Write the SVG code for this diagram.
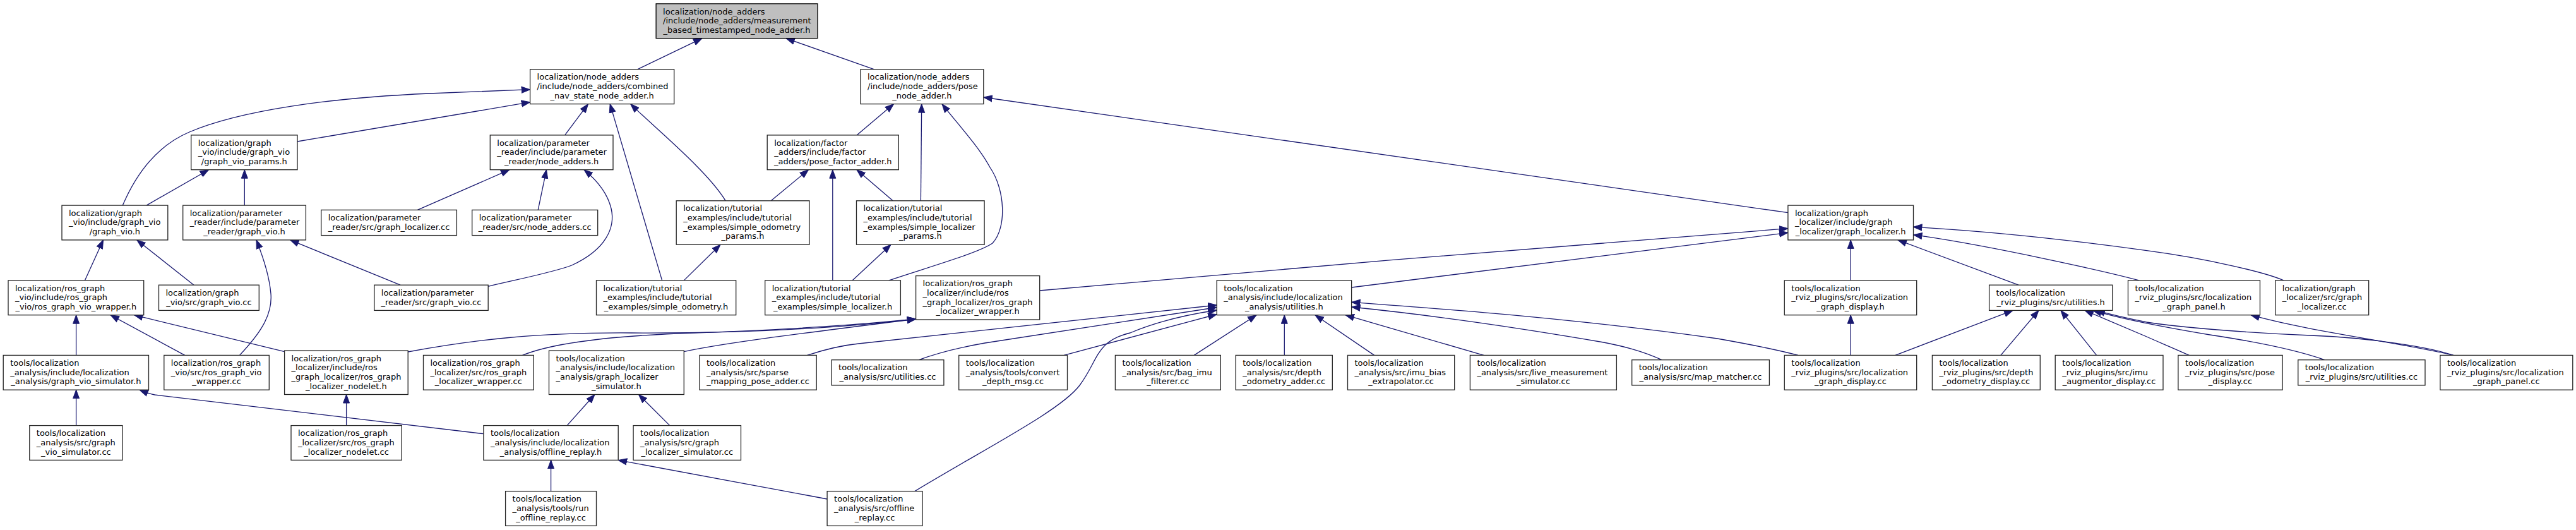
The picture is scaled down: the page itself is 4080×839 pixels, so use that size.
<svg xmlns="http://www.w3.org/2000/svg" width="4080" height="839" viewBox="0 0 4080 839">
<style>
.node rect{fill:#fff;stroke:#222;stroke-width:1.3}
.node.root rect{fill:#bfbfbf;stroke:#000}
.node text{font-family:"DejaVu Sans","Liberation Sans",sans-serif;font-size:13px;fill:#000}
.node text.c{text-anchor:middle}
#edges path{fill:none;stroke:#191970;stroke-width:1.3;marker-end:url(#arr)}
</style>
<defs>
<marker id="arr" markerUnits="userSpaceOnUse" markerWidth="15" markerHeight="12" viewBox="0 0 15 12" refX="14" refY="6" orient="auto">
<path d="M0.5,1 L14,6 L0.5,11 Z" fill="#191970" stroke="#191970" stroke-width="1"/>
</marker>
</defs>
<rect width="4080" height="839" fill="#fff"/>
<g id="edges">
<path d="M1009.6,109.8 L1112,60.7"/>
<path d="M1384.7,109.8 L1245,60.7"/>
<path d="M471,224 L839.6,161.7"/>
<path d="M194.3,325.1 C220,265 255,228 300,209 C380,175 520,155 680,148 L839.6,141.7"/>
<path d="M894.7,213.9 L931.5,164.6"/>
<path d="M1048.6,443.9 L966.2,164.6"/>
<path d="M1149.2,317.8 C1120,270 1040,205 998.7,164.6"/>
<path d="M1357,213.9 L1415.5,164.6"/>
<path d="M1458.4,317.8 L1459.7,164.6"/>
<path d="M1407.7,443.9 C1480,420 1550,400 1572,385 C1595,360 1592,300 1568,265 C1550,232 1520,200 1492,164.6"/>
<path d="M2831.9,336.7 L1557.8,154"/>
<path d="M232,325.1 L330.5,268.7"/>
<path d="M387.3,325.1 L387.3,268.7"/>
<path d="M661.3,332.4 L807,268.7"/>
<path d="M852.2,332.4 L865.5,268.7"/>
<path d="M773.2,453.3 C830,440 880,430 905.5,420 C960,395 975,360 968,330 C962,305 945,285 925,268.7"/>
<path d="M1221.2,317.8 L1280.5,268.7"/>
<path d="M1318.8,443.9 L1318.8,268.7"/>
<path d="M1414.2,317.8 L1357,268.7"/>
<path d="M1083.3,443.9 L1141,387.2"/>
<path d="M1350,443.9 L1411,387.2"/>
<path d="M134.4,443.9 L163.5,379.9"/>
<path d="M307,451.2 L216.8,379.9"/>
<path d="M379.5,562.4 C410,530 432,500 429,465 C427,440 420,415 406,379.9"/>
<path d="M634,451.2 L459.5,379.9"/>
<path d="M1646.7,460 C2000,428 2500,386 2831.9,361.7"/>
<path d="M2140.6,455 L2831.9,368.3"/>
<path d="M2931.2,443.9 L2931.2,379.9"/>
<path d="M3197,451.2 L3006,379.9"/>
<path d="M3387.9,443.9 C3340,431 3150,388 3030.5,371.7"/>
<path d="M3616.8,443.9 C3590,432 3500,410 3400,396.7 C3280,380 3150,366 3030.5,359.3"/>
<path d="M646.2,557 C750,538 850,526 1000,527 C1200,528 1350,517 1450.6,505"/>
<path d="M827.5,562.4 C870,545 950,532 1100,527 C1250,522 1360,514 1450.6,505"/>
<path d="M1083.3,556.7 C1150,542 1300,524 1450.6,505"/>
<path d="M1278.5,562.4 C1310,552 1340,546 1360,544 L1927.2,483"/>
<path d="M1455.4,569.7 C1490,557 1520,550 1560,543 L1927.2,486.5"/>
<path d="M1448.9,777.6 C1560,710 1680,650 1710,610 C1740,570 1735,540 1790,527 C1830,510 1880,498 1927.2,491"/>
<path d="M1685.2,562.4 L1927.2,497.5"/>
<path d="M1891.2,562.4 L1990,498.7"/>
<path d="M2034.3,562.4 L2034.3,498.7"/>
<path d="M2176.6,562.4 L2083,498.7"/>
<path d="M2350,562.4 L2131,498.7"/>
<path d="M2632,569.7 C2600,555 2570,548 2540,542 C2400,518 2250,497 2140.6,486"/>
<path d="M2847.9,562.4 C2800,550 2760,543 2720,536 C2500,505 2300,490 2140.6,478.3"/>
<path d="M2931.2,562.4 L2931.2,498.7"/>
<path d="M3001.9,562.4 L3188,491.4"/>
<path d="M3168.9,562.4 L3229,491.4"/>
<path d="M3320.6,562.4 L3264,491.4"/>
<path d="M3467.2,562.4 C3440,550 3420,542 3400,533 L3302,491.4"/>
<path d="M3681.9,569.7 C3640,555 3580,542 3500,530 C3440,520 3360,505 3315,491.4"/>
<path d="M3885.7,562.4 C3850,550 3760,535 3660,531 C3560,527 3450,518 3400,510 C3370,504 3340,497 3320,491.4"/>
<path d="M3885.7,562.4 C3800,542 3660,525 3565,498.7"/>
<path d="M120.6,562.4 L120.6,498.7"/>
<path d="M292.7,562.4 L175,498.7"/>
<path d="M450.6,556.7 L212.5,498.7"/>
<path d="M120.6,673.6 L120.6,617.2"/>
<path d="M765.9,686.7 L245,625 C235,623 228,620 221,617.2"/>
<path d="M548.6,673.6 L548.6,624.5"/>
<path d="M898.1,673.6 L942,624.5"/>
<path d="M1060.8,673.6 L1011.5,624.5"/>
<path d="M872.6,777.6 L872.6,728.4"/>
<path d="M1310.1,790 L979.2,728.4"/>
</g>
<g id="n1" class="node root" transform="translate(1039.1,5.9)"><rect width="255.8" height="54.8"/><text x="11" y="16.7">localization/node_adders</text><text x="11" y="31.4">/include/node_adders/measurement</text><text class="c" x="127.9" y="46.1">_based_timestamped_node_adder.h</text></g>
<g id="n2" class="node" transform="translate(839.6,109.8)"><rect width="228.1" height="54.8"/><text x="11" y="16.7">localization/node_adders</text><text x="11" y="31.4">/include/node_adders/combined</text><text class="c" x="114.05" y="46.1">_nav_state_node_adder.h</text></g>
<g id="n3" class="node" transform="translate(1363,109.8)"><rect width="194.8" height="54.8"/><text x="11" y="16.7">localization/node_adders</text><text x="11" y="31.4">/include/node_adders/pose</text><text class="c" x="97.4" y="46.1">_node_adder.h</text></g>
<g id="n4" class="node" transform="translate(302.7,213.9)"><rect width="168.3" height="54.8"/><text x="11" y="16.7">localization/graph</text><text x="11" y="31.4">_vio/include/graph_vio</text><text class="c" x="84.15" y="46.1">/graph_vio_params.h</text></g>
<g id="n5" class="node" transform="translate(776.3,213.9)"><rect width="194.7" height="54.8"/><text x="11" y="16.7">localization/parameter</text><text x="11" y="31.4">_reader/include/parameter</text><text class="c" x="97.35" y="46.1">_reader/node_adders.h</text></g>
<g id="n6" class="node" transform="translate(1215.2,213.9)"><rect width="208.1" height="54.8"/><text x="11" y="16.7">localization/factor</text><text x="11" y="31.4">_adders/include/factor</text><text class="c" x="104.05" y="46.1">_adders/pose_factor_adder.h</text></g>
<g id="n7" class="node" transform="translate(98,325.1)"><rect width="167.8" height="54.8"/><text x="11" y="16.7">localization/graph</text><text x="11" y="31.4">_vio/include/graph_vio</text><text class="c" x="83.9" y="46.1">/graph_vio.h</text></g>
<g id="n8" class="node" transform="translate(289.7,325.1)"><rect width="194.7" height="54.8"/><text x="11" y="16.7">localization/parameter</text><text x="11" y="31.4">_reader/include/parameter</text><text class="c" x="97.35" y="46.1">_reader/graph_vio.h</text></g>
<g id="n9" class="node" transform="translate(508.7,332.4)"><rect width="214.7" height="40.2"/><text x="11" y="16.8">localization/parameter</text><text class="c" x="107.35" y="31.4">_reader/src/graph_localizer.cc</text></g>
<g id="n10" class="node" transform="translate(747.7,332.4)"><rect width="199" height="40.2"/><text x="11" y="16.8">localization/parameter</text><text class="c" x="99.5" y="31.4">_reader/src/node_adders.cc</text></g>
<g id="n11" class="node" transform="translate(1071.2,317.8)"><rect width="210.7" height="69.4"/><text x="11" y="16.7">localization/tutorial</text><text x="11" y="31.4">_examples/include/tutorial</text><text x="11" y="46.1">_examples/simple_odometry</text><text class="c" x="105.35" y="60.7">_params.h</text></g>
<g id="n12" class="node" transform="translate(1356.5,317.8)"><rect width="202.6" height="69.4"/><text x="11" y="16.7">localization/tutorial</text><text x="11" y="31.4">_examples/include/tutorial</text><text x="11" y="46.1">_examples/simple_localizer</text><text class="c" x="101.3" y="60.7">_params.h</text></g>
<g id="n13" class="node" transform="translate(2831.9,325.1)"><rect width="198.6" height="54.8"/><text x="11" y="16.7">localization/graph</text><text x="11" y="31.4">_localizer/include/graph</text><text class="c" x="99.3" y="46.1">_localizer/graph_localizer.h</text></g>
<g id="n14" class="node" transform="translate(13,443.9)"><rect width="214.7" height="54.8"/><text x="11" y="16.7">localization/ros_graph</text><text x="11" y="31.4">_vio/include/ros_graph</text><text class="c" x="107.35" y="46.1">_vio/ros_graph_vio_wrapper.h</text></g>
<g id="n15" class="node" transform="translate(251.5,451.2)"><rect width="158.8" height="40.2"/><text x="11" y="16.8">localization/graph</text><text class="c" x="79.4" y="31.4">_vio/src/graph_vio.cc</text></g>
<g id="n16" class="node" transform="translate(592.8,451.2)"><rect width="180.4" height="40.2"/><text x="11" y="16.8">localization/parameter</text><text class="c" x="90.2" y="31.4">_reader/src/graph_vio.cc</text></g>
<g id="n17" class="node" transform="translate(944.5,443.9)"><rect width="221.2" height="54.8"/><text x="11" y="16.7">localization/tutorial</text><text x="11" y="31.4">_examples/include/tutorial</text><text class="c" x="110.6" y="46.1">_examples/simple_odometry.h</text></g>
<g id="n18" class="node" transform="translate(1211.7,443.9)"><rect width="214.7" height="54.8"/><text x="11" y="16.7">localization/tutorial</text><text x="11" y="31.4">_examples/include/tutorial</text><text class="c" x="107.35" y="46.1">_examples/simple_localizer.h</text></g>
<g id="n19" class="node" transform="translate(1450.6,436.6)"><rect width="196.1" height="69.4"/><text x="11" y="16.7">localization/ros_graph</text><text x="11" y="31.4">_localizer/include/ros</text><text x="11" y="46.1">_graph_localizer/ros_graph</text><text class="c" x="98.05" y="60.7">_localizer_wrapper.h</text></g>
<g id="n20" class="node" transform="translate(1927.2,443.9)"><rect width="213.4" height="54.8"/><text x="11" y="16.7">tools/localization</text><text x="11" y="31.4">_analysis/include/localization</text><text class="c" x="106.7" y="46.1">_analysis/utilities.h</text></g>
<g id="n21" class="node" transform="translate(2826.3,443.9)"><rect width="209.4" height="54.8"/><text x="11" y="16.7">tools/localization</text><text x="11" y="31.4">_rviz_plugins/src/localization</text><text class="c" x="104.7" y="46.1">_graph_display.h</text></g>
<g id="n22" class="node" transform="translate(3150.6,451.2)"><rect width="195.2" height="40.2"/><text x="11" y="16.8">tools/localization</text><text class="c" x="97.6" y="31.4">_rviz_plugins/src/utilities.h</text></g>
<g id="n23" class="node" transform="translate(3370.5,443.9)"><rect width="209" height="54.8"/><text x="11" y="16.7">tools/localization</text><text x="11" y="31.4">_rviz_plugins/src/localization</text><text class="c" x="104.5" y="46.1">_graph_panel.h</text></g>
<g id="n24" class="node" transform="translate(3603.8,443.9)"><rect width="147.9" height="54.8"/><text x="11" y="16.7">localization/graph</text><text x="11" y="31.4">_localizer/src/graph</text><text class="c" x="73.95" y="46.1">_localizer.cc</text></g>
<g id="n25" class="node" transform="translate(5.2,562.4)"><rect width="230.3" height="54.8"/><text x="11" y="16.7">tools/localization</text><text x="11" y="31.4">_analysis/include/localization</text><text class="c" x="115.15" y="46.1">_analysis/graph_vio_simulator.h</text></g>
<g id="n26" class="node" transform="translate(259.8,562.4)"><rect width="166.5" height="54.8"/><text x="11" y="16.7">localization/ros_graph</text><text x="11" y="31.4">_vio/src/ros_graph_vio</text><text class="c" x="83.25" y="46.1">_wrapper.cc</text></g>
<g id="n27" class="node" transform="translate(450.6,555.1)"><rect width="195.6" height="69.4"/><text x="11" y="16.7">localization/ros_graph</text><text x="11" y="31.4">_localizer/include/ros</text><text x="11" y="46.1">_graph_localizer/ros_graph</text><text class="c" x="97.8" y="60.7">_localizer_nodelet.h</text></g>
<g id="n28" class="node" transform="translate(670.5,562.4)"><rect width="174.7" height="54.8"/><text x="11" y="16.7">localization/ros_graph</text><text x="11" y="31.4">_localizer/src/ros_graph</text><text class="c" x="87.35" y="46.1">_localizer_wrapper.cc</text></g>
<g id="n29" class="node" transform="translate(869.5,555.1)"><rect width="213.8" height="69.4"/><text x="11" y="16.7">tools/localization</text><text x="11" y="31.4">_analysis/include/localization</text><text x="11" y="46.1">_analysis/graph_localizer</text><text class="c" x="106.9" y="60.7">_simulator.h</text></g>
<g id="n30" class="node" transform="translate(1108,562.4)"><rect width="185.2" height="54.8"/><text x="11" y="16.7">tools/localization</text><text x="11" y="31.4">_analysis/src/sparse</text><text class="c" x="92.6" y="46.1">_mapping_pose_adder.cc</text></g>
<g id="n31" class="node" transform="translate(1317.1,569.7)"><rect width="177.8" height="40.2"/><text x="11" y="16.8">tools/localization</text><text class="c" x="88.9" y="31.4">_analysis/src/utilities.cc</text></g>
<g id="n32" class="node" transform="translate(1518.7,562.4)"><rect width="171.8" height="54.8"/><text x="11" y="16.7">tools/localization</text><text x="11" y="31.4">_analysis/tools/convert</text><text class="c" x="85.9" y="46.1">_depth_msg.cc</text></g>
<g id="n33" class="node" transform="translate(1766.4,562.4)"><rect width="166.9" height="54.8"/><text x="11" y="16.7">tools/localization</text><text x="11" y="31.4">_analysis/src/bag_imu</text><text class="c" x="83.45" y="46.1">_filterer.cc</text></g>
<g id="n34" class="node" transform="translate(1957.2,562.4)"><rect width="153.1" height="54.8"/><text x="11" y="16.7">tools/localization</text><text x="11" y="31.4">_analysis/src/depth</text><text class="c" x="76.55" y="46.1">_odometry_adder.cc</text></g>
<g id="n35" class="node" transform="translate(2134.5,562.4)"><rect width="169.2" height="54.8"/><text x="11" y="16.7">tools/localization</text><text x="11" y="31.4">_analysis/src/imu_bias</text><text class="c" x="84.6" y="46.1">_extrapolator.cc</text></g>
<g id="n36" class="node" transform="translate(2328.4,562.4)"><rect width="232" height="54.8"/><text x="11" y="16.7">tools/localization</text><text x="11" y="31.4">_analysis/src/live_measurement</text><text class="c" x="116" y="46.1">_simulator.cc</text></g>
<g id="n37" class="node" transform="translate(2584.7,569.7)"><rect width="217.7" height="40.2"/><text x="11" y="16.8">tools/localization</text><text class="c" x="108.85" y="31.4">_analysis/src/map_matcher.cc</text></g>
<g id="n38" class="node" transform="translate(2826.3,562.4)"><rect width="209.4" height="54.8"/><text x="11" y="16.7">tools/localization</text><text x="11" y="31.4">_rviz_plugins/src/localization</text><text class="c" x="104.7" y="46.1">_graph_display.cc</text></g>
<g id="n39" class="node" transform="translate(3060.4,562.4)"><rect width="170.9" height="54.8"/><text x="11" y="16.7">tools/localization</text><text x="11" y="31.4">_rviz_plugins/src/depth</text><text class="c" x="85.45" y="46.1">_odometry_display.cc</text></g>
<g id="n40" class="node" transform="translate(3255.2,562.4)"><rect width="170.8" height="54.8"/><text x="11" y="16.7">tools/localization</text><text x="11" y="31.4">_rviz_plugins/src/imu</text><text class="c" x="85.4" y="46.1">_augmentor_display.cc</text></g>
<g id="n41" class="node" transform="translate(3449.9,562.4)"><rect width="165.2" height="54.8"/><text x="11" y="16.7">tools/localization</text><text x="11" y="31.4">_rviz_plugins/src/pose</text><text class="c" x="82.6" y="46.1">_display.cc</text></g>
<g id="n42" class="node" transform="translate(3639.8,569.7)"><rect width="201.2" height="40.2"/><text x="11" y="16.8">tools/localization</text><text class="c" x="100.6" y="31.4">_rviz_plugins/src/utilities.cc</text></g>
<g id="n43" class="node" transform="translate(3864.9,562.4)"><rect width="209.9" height="54.8"/><text x="11" y="16.7">tools/localization</text><text x="11" y="31.4">_rviz_plugins/src/localization</text><text class="c" x="104.95" y="46.1">_graph_panel.cc</text></g>
<g id="n44" class="node" transform="translate(46.8,673.6)"><rect width="147.1" height="54.8"/><text x="11" y="16.7">tools/localization</text><text x="11" y="31.4">_analysis/src/graph</text><text class="c" x="73.55" y="46.1">_vio_simulator.cc</text></g>
<g id="n45" class="node" transform="translate(461,673.6)"><rect width="175.2" height="54.8"/><text x="11" y="16.7">localization/ros_graph</text><text x="11" y="31.4">_localizer/src/ros_graph</text><text class="c" x="87.6" y="46.1">_localizer_nodelet.cc</text></g>
<g id="n46" class="node" transform="translate(765.9,673.6)"><rect width="213.3" height="54.8"/><text x="11" y="16.7">tools/localization</text><text x="11" y="31.4">_analysis/include/localization</text><text class="c" x="106.65" y="46.1">_analysis/offline_replay.h</text></g>
<g id="n47" class="node" transform="translate(1003.1,673.6)"><rect width="170.4" height="54.8"/><text x="11" y="16.7">tools/localization</text><text x="11" y="31.4">_analysis/src/graph</text><text class="c" x="85.2" y="46.1">_localizer_simulator.cc</text></g>
<g id="n48" class="node" transform="translate(800.6,777.6)"><rect width="143.9" height="54.8"/><text x="11" y="16.7">tools/localization</text><text x="11" y="31.4">_analysis/tools/run</text><text class="c" x="71.95" y="46.1">_offline_replay.cc</text></g>
<g id="n49" class="node" transform="translate(1310.1,777.6)"><rect width="150.9" height="54.8"/><text x="11" y="16.7">tools/localization</text><text x="11" y="31.4">_analysis/src/offline</text><text class="c" x="75.45" y="46.1">_replay.cc</text></g>
</svg>
